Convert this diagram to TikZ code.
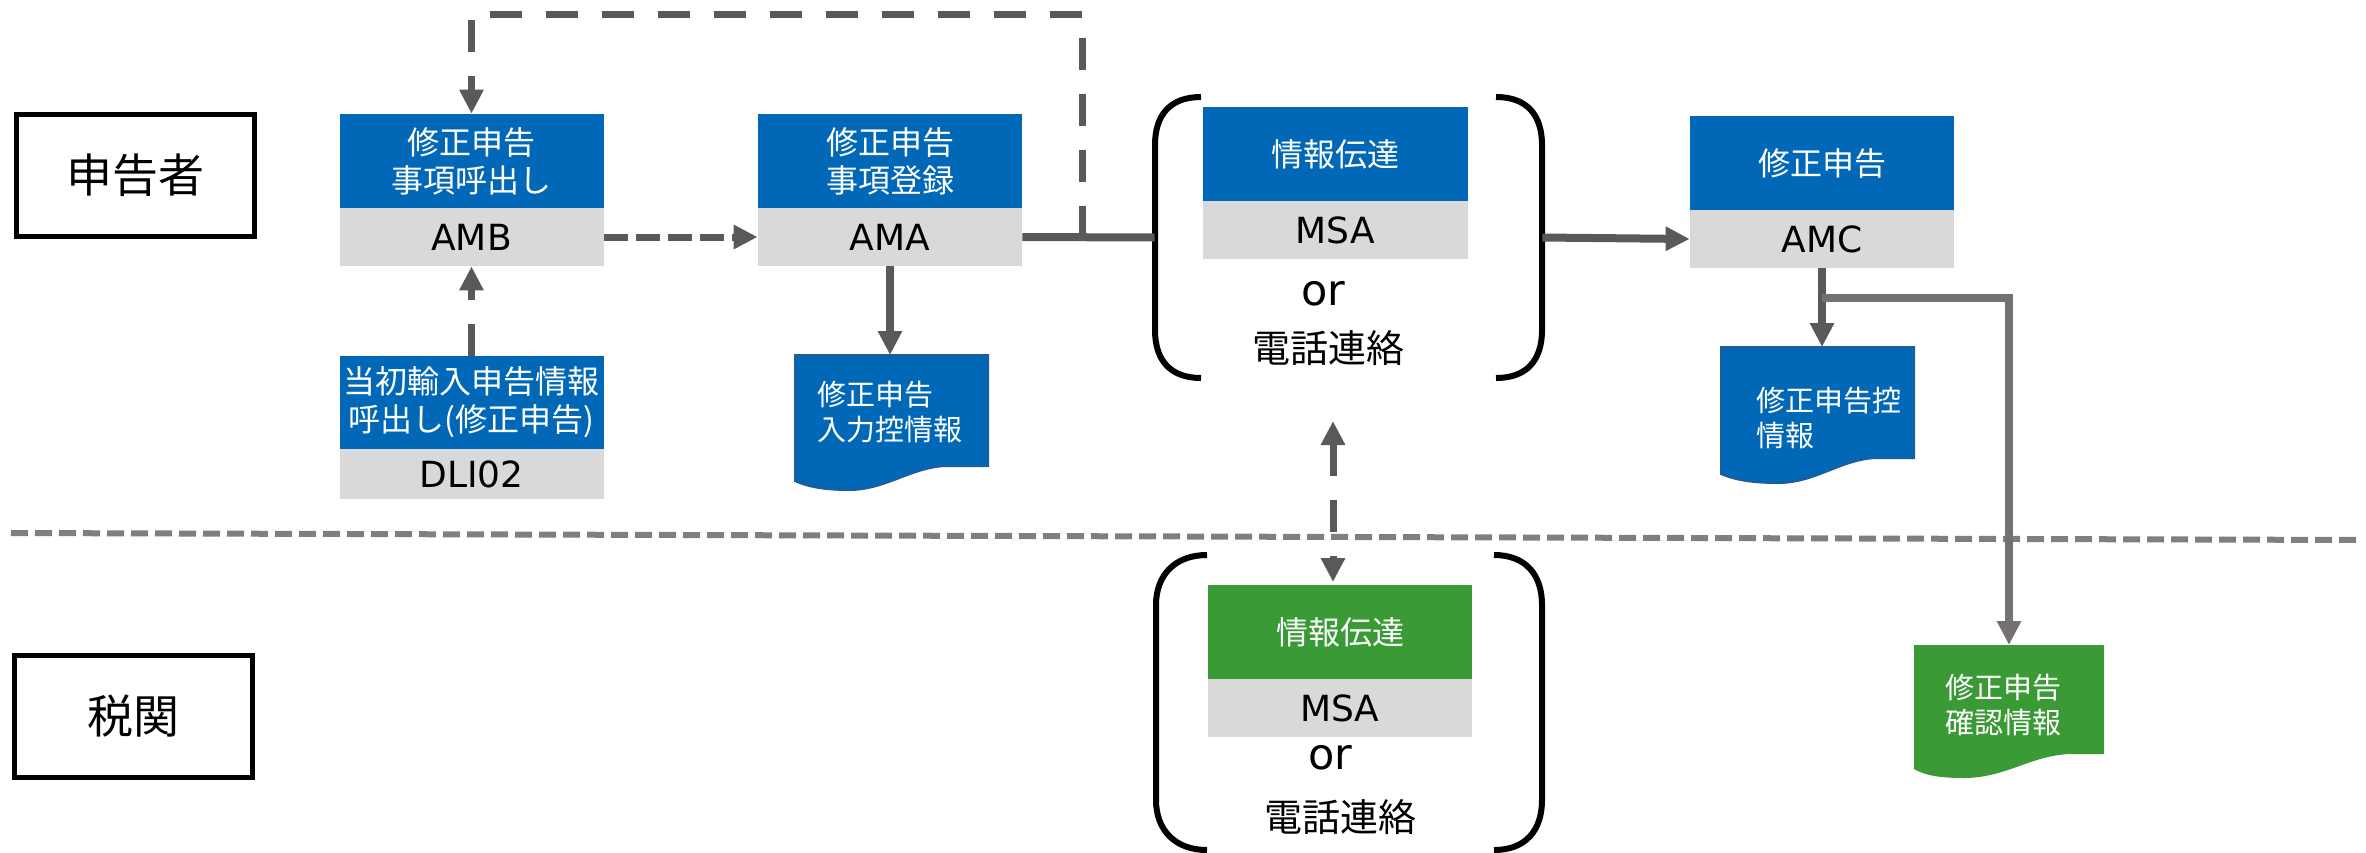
\documentclass[tikz,border=0pt]{standalone}
\usepackage{fontspec}
\newfontfamily\cjk{Noto Sans CJK JP}
\newfontfamily\lat{DejaVu Sans}
\usetikzlibrary{arrows.meta,calc}
\definecolor{myblue}{HTML}{0068B7}
\definecolor{mygreen}{HTML}{3A9A35}
\definecolor{mygray}{HTML}{D9D9D9}
\definecolor{arrowgray}{HTML}{595959}
\definecolor{branchgray}{HTML}{767171}
\definecolor{sepgray}{HTML}{7F7F7F}
\definecolor{docedge}{HTML}{1F5C99}
\begin{document}
\begin{tikzpicture}[x=0.5pt,y=-0.5pt,
  head/.style={-{Triangle[length=12pt,width=11.5pt]}},
  twoheads/.style={{Triangle[length=12pt,width=11.5pt]}-{Triangle[length=12pt,width=11.5pt]}},
  toplabel/.style={fill=myblue,text=white,inner sep=0pt,minimum width=132pt,minimum height=47pt,align=center,font=\cjk\fontsize{16}{19}\selectfont},
  greenlabel/.style={toplabel,fill=mygreen},
  codebox/.style={fill=mygray,inner sep=0pt,minimum width=132pt,minimum height=29pt,font=\lat\fontsize{18}{22}\selectfont},
  actor/.style={draw=black,line width=2.5pt,inner sep=0pt,minimum width=119pt,minimum height=61pt,font=\cjk\fontsize{23}{27}\selectfont},
  solidconn/.style={draw=arrowgray,line width=4pt},
  longdash/.style={draw=arrowgray,line width=3.5pt,dash pattern=on 16pt off 12pt},
  shortdash/.style={draw=arrowgray,line width=3.5pt,dash pattern=on 12pt off 4pt},
  sepline/.style={draw=sepgray,line width=3pt,dash pattern=on 8.5pt off 3.5pt},
  bracket/.style={draw=black,line width=3pt},
  doctext/.style={text=white,inner sep=0pt,align=left,font=\cjk\fontsize{14.5}{17.5}\selectfont},
  ortext/.style={inner sep=0pt,font=\lat\fontsize{21.5}{26}\selectfont},
  teltext/.style={inner sep=0pt,font=\cjk\fontsize{19}{23}\selectfont},
  group/.style={inner sep=0pt,minimum width=193.5pt,minimum height=140.5pt},
]
\useasboundingbox (0,0) rectangle (2366,852);
% separator
\coordinate (sepL) at (11,533);
\coordinate (sepR) at (2362,540);
\draw[sepline] (sepL) -- (sepR);
% actors
\node[actor] (shinkoku) at (135.5,175.5) {申告者};
\node[actor] (zeikan) at (133,716) {税関};
% AMB
\node[toplabel] (ambt) at (471.5,161) {修正申告\\事項呼出し};
\node[codebox] (ambg) at (471.5,237) {AMB};
% AMA
\node[toplabel] (amat) at (890,161) {修正申告\\事項登録};
\node[codebox] (amag) at (890,237) {AMA};
% DLI02
\node[toplabel,minimum height=46.5pt] (dlit) at (471.5,402.5) {当初輸入申告情報\\呼出し(修正申告)};
\node[codebox,minimum height=25pt] (dlig) at (471.5,474) {DLI02};
% top group
\node[group] (grpTop) at (1348.5,237.5) {};
\draw[bracket] (1201,97) .. controls (1170,97) and (1155,115) .. (1155,145) -- (1155,330) .. controls (1155,360) and (1170,378) .. (1201,378);
\draw[bracket] (1496,97) .. controls (1527,97) and (1542,115) .. (1542,145) -- (1542,330) .. controls (1542,360) and (1527,378) .. (1496,378);
\node[toplabel,minimum width=132.5pt] (msat) at (1335.5,154) {情報伝達};
\node[codebox,minimum width=132.5pt] (msag) at (1335.5,230) {MSA};
\node[ortext] (or1) at (1323,294) {or};
\node[teltext] (tel1) at (1328,348) {電話連絡};
% bottom group
\node[group,minimum height=147.5pt] (grpBot) at (1349,702.5) {};
\draw[bracket] (1207,555) .. controls (1175,555) and (1156,575) .. (1156,605) -- (1156,800) .. controls (1156,830) and (1175,850) .. (1207,850);
\draw[bracket] (1494,555) .. controls (1526,555) and (1542,575) .. (1542,605) -- (1542,800) .. controls (1542,830) and (1526,850) .. (1494,850);
\node[greenlabel] (gmsat) at (1340,632) {情報伝達};
\node[codebox] (gmsag) at (1340,708) {MSA};
\node[ortext] (or2) at (1330,758) {or};
\node[teltext] (tel2) at (1340,817) {電話連絡};
% AMC
\node[toplabel] (amct) at (1822,163) {修正申告};
\node[codebox] (amcg) at (1822,239) {AMC};
% documents
\fill[myblue,draw=docedge,line width=1pt] (795,355) -- (988,355) -- (988,466) -- (945,466) .. controls (910,468) and (885,490) .. (849,490) .. controls (825,490) and (808,487) .. (795,481) -- cycle;
\coordinate (doc1top) at (890,355);
\node[doctext,anchor=west] (doc1) at (817,412.5) {修正申告\\入力控情報};
\fill[myblue,draw=docedge,line width=1pt] (1721,347) -- (1914,347) -- (1914,458) -- (1875,458) .. controls (1840,460) and (1815,483) .. (1778,483) .. controls (1752,483) and (1735,480) .. (1721,474) -- cycle;
\coordinate (doc2top) at (1822,347);
\node[doctext,anchor=west] (doc2) at (1756,417.5) {修正申告控\\情報};
\fill[mygreen] (1914,645) -- (2104,645) -- (2104,754) -- (2069,754) .. controls (2030,756) and (2005,778) .. (1964,778) .. controls (1942,778) and (1926,776) .. (1914,769) -- cycle;
\coordinate (gdoctop) at (2009,645);
\node[doctext,align=center] (gdoc) at (2003,705) {修正申告\\確認情報};
% connectors
\draw[shortdash,head] (ambg.east) -- (amag.west);
\draw[solidconn] (amag.east) -- (grpTop.west);
\coordinate (tj) at (1082,237.5);
\coordinate (tc) at (1082,14);
\draw[longdash,head] (tj) -- (tc) -| (ambt.north);
\draw[longdash,head] (dlit.north) -- (ambg.south);
\draw[solidconn,head] (amag.south) -- (doc1top);
\draw[solidconn,head] (grpTop.east) -- (amcg.west);
\draw[solidconn,head] (amcg.south) -- (doc2top);
\coordinate (br) at (1822,298);
\draw[draw=branchgray,line width=4pt,head] (br) -| (gdoctop);
\coordinate (da1) at (1333,421);
\coordinate (da2) at (1333,582);
\draw[longdash,twoheads] (da1) -- (da2);
\end{tikzpicture}
\end{document}
